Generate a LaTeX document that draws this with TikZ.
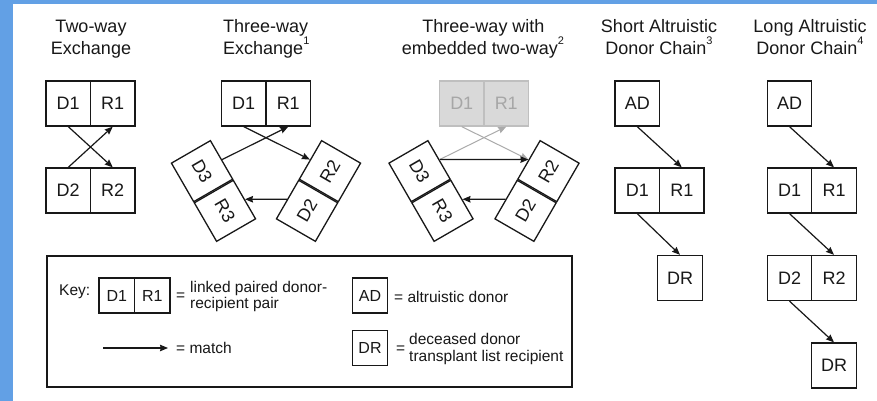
\documentclass[tikz,border=0pt]{standalone}
\usepackage{fontspec}
\setmainfont{Liberation Sans}
\usetikzlibrary{arrows.meta}
\definecolor{edgeblue}{RGB}{98,160,229}
\definecolor{ink}{RGB}{24,24,24}
\definecolor{ghostfill}{RGB}{217,217,217}
\definecolor{ghostdraw}{RGB}{191,191,191}
\definecolor{ghosttext}{RGB}{166,166,166}
\definecolor{ghostarrow}{RGB}{170,170,170}
\tikzset{
 cell/.style={draw=ink, line width=1.3pt, minimum width=44.5pt, minimum height=45pt, inner sep=0pt, font=\fontsize{18}{18}\selectfont, text=ink},
 ghost/.style={cell, draw=ghostdraw, fill=ghostfill, text=ghosttext},
 keycell/.style={cell, minimum width=35.5pt, minimum height=35pt, font=\fontsize{16}{16}\selectfont},
 match/.style={draw=ink, color=ink, line width=1.2pt, -{Stealth[length=8pt,width=6.5pt,inset=0.8pt]}},
 ghostmatch/.style={draw=ghostarrow, color=ghostarrow, line width=1pt, -{Stealth[length=8pt,width=6.5pt,inset=0.8pt]}},
 ttl/.style={font=\fontsize{18}{22}\selectfont, text=ink, inner sep=0pt, anchor=base},
 keytxt/.style={font=\fontsize{15.5}{16}\selectfont, text=ink, inner sep=0pt, anchor=base west},
}
\newcommand{\supnum}[1]{\raisebox{10pt}{\fontsize{11}{11}\selectfont #1}}
\begin{document}
\begin{tikzpicture}[x=1pt,y=-1pt]
\useasboundingbox (0,0) rectangle (877,401);
\fill[white] (0,0) rectangle (877,401);
\fill[edgeblue] (0,0) rectangle (13,401);
\fill[edgeblue] (0,0) rectangle (877,4);

% titles
\node[ttl] (t1a) at (91,33) {Two-way};
\node[ttl] (t1b) at (91,55) {Exchange};
\node[ttl, anchor=base west] (t2a) at (223,33) {Three-way};
\node[ttl, anchor=base west] (t2b) at (223,55) {Exchange\supnum{1}};
\node[ttl] (t3a) at (483.5,33) {Three-way with};
\node[ttl] (t3b) at (483,55) {embedded two-way\supnum{2}};
\node[ttl] (t4a) at (659,33) {Short Altruistic};
\node[ttl] (t4b) at (659,55) {Donor Chain\supnum{3}};
\node[ttl] (t5a) at (810,33) {Long Altruistic};
\node[ttl] (t5b) at (810,55) {Donor Chain\supnum{4}};

% two-way
\node[cell] (D1a) at (68.25,103.5) {D1};
\node[cell] (R1a) at (112.75,103.5) {R1};
\node[cell] (D2a) at (68.25,190.5) {D2};
\node[cell] (R2a) at (112.75,190.5) {R2};
\draw[match] (D1a.south) -- (R2a.north);
\draw[match] (D2a.north) -- (R1a.south);

% three-way
\node[cell] (D1b) at (243.75,103.5) {D1};
\node[cell] (R1b) at (288.25,103.5) {R1};
\coordinate (cb3) at (213.5,191);
\coordinate (cb2) at (318.5,191);
\node[cell, rotate=-60, anchor=east] (D3b) at (cb3) {D3};
\node[cell, rotate=-60, anchor=west] (R3b) at (cb3) {R3};
\node[cell, rotate=60, anchor=east] (D2b) at (cb2) {D2};
\node[cell, rotate=60, anchor=west] (R2b) at (cb2) {R2};
\draw[match] (D1b.south) -- (R2b.north);
\draw[match] (D3b.north) -- (R1b.south);
\draw[match] (D2b.north) -- (R3b.north);

% three-way with embedded two-way
\node[ghost] (D1c) at (461.75,103.5) {D1};
\node[ghost] (R1c) at (506.25,103.5) {R1};
\coordinate (cc3) at (431,191);
\coordinate (cc2) at (537,191);
\node[cell, rotate=-60, anchor=east] (D3c) at (cc3) {D3};
\node[cell, rotate=-60, anchor=west] (R3c) at (cc3) {R3};
\node[cell, rotate=60, anchor=east] (D2c) at (cc2) {D2};
\node[cell, rotate=60, anchor=west] (R2c) at (cc2) {R2};
\draw[ghostmatch] (D1c.south) -- (R2c.north);
\draw[ghostmatch] (D3c.north) -- (R1c.south);
\draw[match] (D3c.north) -- (R2c.north);
\draw[match] (D2c.north) -- (R3c.north);

% short chain
\node[cell] (ADs) at (637.25,103.5) {AD};
\node[cell] (D1s) at (637.25,190.5) {D1};
\node[cell] (R1s) at (681.75,190.5) {R1};
\node[cell] (DRs) at (680,278) {DR};
\draw[match] (ADs.south) -- (R1s.north);
\draw[match] (D1s.south) -- (DRs.north);

% long chain
\node[cell] (ADl) at (789.5,103.5) {AD};
\node[cell] (D1l) at (789.5,190.5) {D1};
\node[cell] (R1l) at (834,190.5) {R1};
\node[cell] (D2l) at (789.5,278) {D2};
\node[cell] (R2l) at (834,278) {R2};
\node[cell] (DRl) at (834,365.5) {DR};
\draw[match] (ADl.south) -- (R1l.north);
\draw[match] (D1l.south) -- (R2l.north);
\draw[match] (D2l.south) -- (DRl.north);

% key
\draw[draw=ink, line width=1.3pt] (47,256) rectangle (572,387);
\node[keytxt] (keylbl) at (59,295) {Key:};
\node[keycell] (kD) at (116.75,295.5) {D1};
\node[keycell] (kR) at (152.25,295.5) {R1};
\node[keytxt] (keq1) at (176,300) {=};
\node[keytxt] (kl1) at (190,292) {linked paired donor-};
\node[keytxt] (kl2) at (190,308) {recipient pair};
\coordinate (ka) at (103,348);
\coordinate (kb) at (168,348);
\draw[match] (ka) -- (kb);
\node[keytxt] (km) at (176,353) {= match};
\node[keycell] (kAD) at (370,295.5) {AD};
\node[keytxt] (kad) at (394,302) {= altruistic donor};
\node[keycell] (kDR) at (370,348) {DR};
\node[keytxt] (keq2) at (396,353) {=};
\node[keytxt] (kdr1) at (409,344) {deceased donor};
\node[keytxt] (kdr2) at (409,361) {transplant list recipient};
\end{tikzpicture}
\end{document}
